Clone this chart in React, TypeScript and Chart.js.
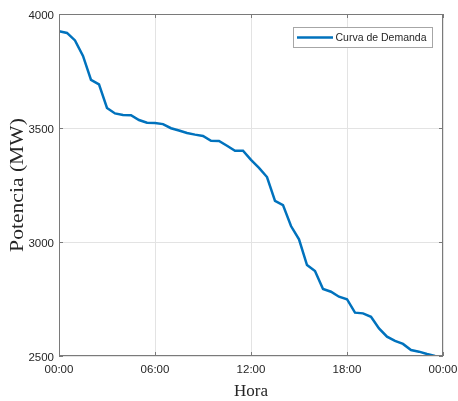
import React, { useEffect, useRef } from "react";
import { Chart, registerables } from "chart.js";

Chart.register(...registerables);

// Hours of the day (half-hourly samples), 0 = 00:00
const hours: number[] = [
  0, 0.5, 1, 1.5, 2, 2.5, 3, 3.5, 4, 4.5, 5, 5.5, 6, 6.5, 7, 7.5,
  8, 8.5, 9, 9.5, 10, 10.5, 11, 11.5, 12, 12.5, 13, 13.5, 14, 14.5, 15, 15.5,
  16, 16.5, 17, 17.5, 18, 18.5, 19, 19.5, 20, 20.5, 21, 21.5, 22, 22.5, 23, 23.5,
];

// Load duration curve (MW)
const demanda: number[] = [
  3925, 3917, 3884, 3816, 3711, 3691, 3588, 3564, 3557, 3556, 3535, 3523, 3522, 3517, 3499, 3489,
  3478, 3471, 3465, 3444, 3443, 3422, 3400, 3400, 3360, 3325, 3285, 3180, 3162, 3070, 3012, 2899,
  2873, 2794, 2782, 2760, 2749, 2690, 2687, 2672, 2621, 2585, 2566, 2553, 2526, 2519, 2509, 2500,
];

const seriesLabel = "Curva de Demanda";
const xTitle = "Hora";
const yTitle = "Potencia (MW)";
const yMin = 2500;
const yMax = 4000;
const yStep = 500;
const xMin = 0;
const xMax = 24;
const xStep = 6;

const SANS = '"Liberation Sans", Arial, Helvetica, sans-serif';
const SERIF = '"Liberation Serif", "Times New Roman", serif';
const AXIS_COLOR = "#7a7a7a";
const TEXT_COLOR = "#262626";
const LINE_COLOR = "#0072BD";

const matlabPlugin = {
  id: "matlabBox",
  afterDatasetsDraw(chart: any) {
    const { ctx, chartArea, scales } = chart;
    const { left, right, top, bottom } = chartArea;
    const xs = scales.x;
    const ys = scales.y;
    ctx.save();
    ctx.strokeStyle = AXIS_COLOR;
    ctx.lineWidth = 1;
    ctx.beginPath();
    xs.ticks.forEach((t: any) => {
      const px = Math.round(xs.getPixelForValue(t.value)) + 0.5;
      ctx.moveTo(px, bottom);
      ctx.lineTo(px, bottom - 4);
      ctx.moveTo(px, top);
      ctx.lineTo(px, top + 4);
    });
    ys.ticks.forEach((t: any) => {
      const py = Math.round(ys.getPixelForValue(t.value)) + 0.5;
      ctx.moveTo(left, py);
      ctx.lineTo(left + 4, py);
      ctx.moveTo(right, py);
      ctx.lineTo(right - 4, py);
    });
    ctx.stroke();
    ctx.strokeRect(left + 0.5, top + 0.5, right - left - 1, bottom - top - 1);

    // Legend box (top-right, inside the axes)
    const ds = chart.data.datasets[0];
    const bx = 293.5;
    const by = 27.5;
    const bw = 139;
    const bh = 20;
    ctx.fillStyle = "#ffffff";
    ctx.fillRect(bx, by, bw, bh);
    ctx.strokeStyle = "#a6a6a6";
    ctx.strokeRect(bx, by, bw, bh);
    ctx.strokeStyle = ds.borderColor;
    ctx.lineWidth = 2.5;
    ctx.beginPath();
    ctx.moveTo(297, by + bh / 2);
    ctx.lineTo(333, by + bh / 2);
    ctx.stroke();
    ctx.fillStyle = TEXT_COLOR;
    ctx.font = `10.5px ${SANS}`;
    ctx.textAlign = "left";
    ctx.textBaseline = "middle";
    ctx.fillText(ds.label, 335.5, by + bh / 2 + 0.5);

    // Y axis title (serif, tall)
    ctx.save();
    ctx.translate(18, (top + bottom) / 2);
    ctx.rotate(-Math.PI / 2);
    ctx.scale(1.2, 1);
    ctx.font = `18px ${SERIF}`;
    ctx.textAlign = "center";
    ctx.textBaseline = "middle";
    ctx.fillStyle = TEXT_COLOR;
    ctx.fillText(yTitle, 0, 0);
    ctx.restore();

    ctx.restore();
  },
};

export default function App() {
  const canvasRef = useRef<HTMLCanvasElement | null>(null);

  useEffect(() => {
    if (!canvasRef.current) return;
    const chart = new Chart(canvasRef.current, {
      type: "line",
      data: {
        datasets: [
          {
            label: seriesLabel,
            data: hours.map((h, i) => ({ x: h, y: demanda[i] })),
            borderColor: LINE_COLOR,
            backgroundColor: LINE_COLOR,
            borderWidth: 2.5,
            pointRadius: 0,
            tension: 0,
            fill: false,
          },
        ],
      },
      options: {
        animation: false,
        responsive: true,
        maintainAspectRatio: false,
        layout: { padding: { left: 0, top: 14, right: 15, bottom: 0 } },
        plugins: {
          legend: { display: false },
          tooltip: { enabled: false },
        },
        scales: {
          x: {
            type: "linear",
            min: xMin,
            max: xMax,
            afterFit: (s: any) => {
              s.height = 45;
              s.paddingLeft = 0;
              s.paddingRight = 0;
            },
            ticks: {
              stepSize: xStep,
              padding: 7,
              color: TEXT_COLOR,
              font: { family: SANS, size: 11.5 },
              maxRotation: 0,
              callback: (v: any) => `${String(Number(v) % 24).padStart(2, "0")}:00`,
            },
            grid: { color: "#e3e3e3", lineWidth: 1, drawTicks: false },
            border: { display: false },
            title: {
              display: true,
              text: xTitle,
              color: TEXT_COLOR,
              font: { family: SERIF, size: 17 },
              padding: { top: 0, bottom: -1 },
            },
          },
          y: {
            type: "linear",
            min: yMin,
            max: yMax,
            afterFit: (s: any) => {
              s.width = 59;
              s.paddingTop = 0;
              s.paddingBottom = 0;
            },
            ticks: {
              stepSize: yStep,
              padding: 5,
              labelOffset: 2,
              color: TEXT_COLOR,
              font: { family: SANS, size: 11.5 },
              callback: (v: any) => String(v),
            },
            grid: { color: "#e3e3e3", lineWidth: 1, drawTicks: false },
            border: { display: false },
          },
        },
      },
      plugins: [matlabPlugin],
    });
    return () => chart.destroy();
  }, []);

  return (
    <div style={{ position: "absolute", left: 0, top: 0, width: 458, height: 401, background: "#fff" }}>
      <canvas ref={canvasRef} />
    </div>
  );
}
